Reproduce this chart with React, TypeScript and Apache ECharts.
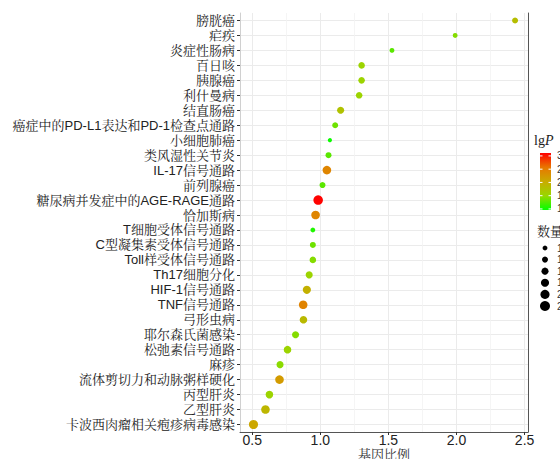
import React, { useEffect, useRef } from 'react';
import * as echarts from 'echarts';

const categories = [
  '膀胱癌', '疟疾', '炎症性肠病', '百日咳', '胰腺癌', '利什曼病', '结直肠癌',
  '癌症中的PD-L1表达和PD-1检查点通路', '小细胞肺癌', '类风湿性关节炎', 'IL-17信号通路',
  '前列腺癌', '糖尿病并发症中的AGE-RAGE通路', '恰加斯病', 'T细胞受体信号通路',
  'C型凝集素受体信号通路', 'Toll样受体信号通路', 'Th17细胞分化', 'HIF-1信号通路',
  'TNF信号通路', '弓形虫病', '耶尔森氏菌感染', '松弛素信号通路', '麻疹',
  '流体剪切力和动脉粥样硬化', '丙型肝炎', '乙型肝炎', '卡波西肉瘤相关疱疹病毒感染',
];
const geneRatio = [
  2.43, 1.99, 1.526, 1.303, 1.303, 1.285, 1.149, 1.109, 1.07, 1.06, 1.048, 1.016,
  0.984, 0.965, 0.945, 0.945, 0.945, 0.918, 0.901, 0.874, 0.876, 0.818, 0.759,
  0.704, 0.7, 0.626, 0.597, 0.509,
];
const lgP = [
  1.82, 1.43, 1.28, 1.54, 1.54, 1.54, 1.76, 1.35, 1.0, 1.28, 2.42, 1.28, 3.1, 2.42,
  1.07, 1.35, 1.43, 1.54, 1.97, 2.44, 1.86, 1.43, 1.54, 1.45, 2.2, 1.54, 1.9, 2.08,
];
const counts = [
  14, 12, 12, 15, 15, 15, 16, 14, 11, 14, 19, 14, 21, 19, 12, 14, 15, 16, 18, 19,
  17, 16, 17, 16, 19, 17, 19, 20,
];
const xTicks = [0.5, 1.0, 1.5, 2.0, 2.5];
const xMinorTicks = [0.75, 1.25, 1.75, 2.25];
const colorTicks = [3.0, 2.5, 2.0, 1.5, 1.0];
const sizeBreaks = [12, 14, 16, 18, 20, 22];
const colorStops = ['#00FF00', '#98D700', '#C9AB00', '#E87600', '#FF0000'];
const lgMin = 0.96;
const lgMax = 3.11;

const sizeOf = (c: number) => Math.max(2.5, -9.79 + 4.22 * Math.sqrt(c));

const LATIN = "'Liberation Sans', 'Noto Serif CJK SC', 'Noto Sans CJK SC', sans-serif";
const SERIF_CJK = "'Noto Serif CJK SC', 'Noto Sans CJK SC', serif";

export default function App() {
  const ref = useRef<HTMLDivElement>(null);
  useEffect(() => {
    if (!ref.current) return;
    const chart = echarts.init(ref.current, null, { renderer: 'svg' });

    const barX = 540, barY = 153, barW = 11, barH = 57;
    const valToY = (v: number) => barY + ((lgMax - v) / (lgMax - lgMin)) * barH;
    const legendGraphics: any[] = [
      {
        type: 'text', left: 534, top: 133,
        style: {
          text: '{a|lg}{b|P}',
          rich: {
            a: { fontFamily: "'Liberation Serif', serif", fontSize: 14, fill: '#222' },
            b: { fontFamily: "'Liberation Serif', serif", fontSize: 14, fontStyle: 'italic', fill: '#222' },
          },
        },
      },
      {
        type: 'rect', shape: { x: barX, y: barY, width: barW, height: barH },
        style: {
          fill: new echarts.graphic.LinearGradient(0, 0, 0, 1,
            colorStops.slice().reverse().map((c, i) => ({ offset: i / (colorStops.length - 1), color: c }))),
        },
      },
      ...colorTicks.flatMap((v) => {
        const y = valToY(v);
        return [
          { type: 'line', shape: { x1: barX, y1: y, x2: barX + 2.5, y2: y }, style: { stroke: '#fff', lineWidth: 1 } },
          { type: 'line', shape: { x1: barX + barW - 2.5, y1: y, x2: barX + barW, y2: y }, style: { stroke: '#fff', lineWidth: 1 } },
          {
            type: 'text', x: 557, y,
            style: { text: v.toFixed(1), fontSize: 10, fill: '#333', fontFamily: LATIN, verticalAlign: 'middle' },
          },
        ];
      }),
      {
        type: 'text', left: 537, top: 224,
        style: { text: '数量', fontSize: 13, fill: '#222', fontFamily: SERIF_CJK },
      },
      ...sizeBreaks.flatMap((c, i) => {
        const y = 248 + i * 11.6;
        return [
          { type: 'circle', shape: { cx: 545, cy: y, r: sizeOf(c) / 2 }, style: { fill: '#000' } },
          {
            type: 'text', x: 557, y,
            style: { text: String(c), fontSize: 10, fill: '#333', fontFamily: LATIN, verticalAlign: 'middle' },
          },
        ];
      }),
    ];

    chart.setOption({
      animation: false,
      backgroundColor: '#fff',
      grid: { left: 240, right: 32, top: 13, bottom: 27, containLabel: false, outerBoundsMode: 'none' },
      visualMap: {
        type: 'continuous', show: false, dimension: 2, min: lgMin, max: lgMax,
        seriesIndex: 0, inRange: { color: colorStops },
      },
      xAxis: {
        type: 'value', min: 0.41, max: 2.525,
        name: '基因比例', nameLocation: 'middle', nameGap: 15, nameMoveOverlap: false,
        nameTextStyle: { fontSize: 13, lineHeight: 12, color: '#333', fontFamily: SERIF_CJK, verticalAlign: 'top' },
        axisLine: { show: true, lineStyle: { color: '#555', width: 1 } },
        axisTick: { show: true, customValues: xTicks, length: 3, lineStyle: { color: '#333' } },
        axisLabel: {
          customValues: xTicks, fontSize: 14, lineHeight: 12, color: '#222', margin: 2, fontFamily: LATIN,
          formatter: (v: number) => v.toFixed(1),
        },
        splitLine: { show: true, lineStyle: { color: '#ebebeb', width: 1 } },
      },
      yAxis: [
        {
          type: 'category', data: categories, inverse: true,
          axisLine: { show: true, lineStyle: { color: '#d0d0d0', width: 1 } },
          axisTick: { show: true, alignWithLabel: true, length: 3, interval: 0, lineStyle: { color: '#333' } },
          axisLabel: { interval: 0, fontSize: 13, color: '#222', margin: 5, fontFamily: LATIN },
          splitLine: { show: true, alignWithLabel: true, interval: 0, lineStyle: { color: '#ebebeb', width: 1 } },
        },
        {
          type: 'category', data: categories, inverse: true, position: 'right',
          axisLine: { show: true, lineStyle: { color: '#555', width: 1 } },
          axisTick: { show: false }, axisLabel: { show: false }, splitLine: { show: false },
        },
      ],
      series: [
        {
          type: 'scatter',
          yAxisIndex: 0,
          data: categories.map((c, i) => [geneRatio[i], c, lgP[i], counts[i]]),
          symbolSize: (v: number[]) => sizeOf(v[3]),
          itemStyle: { opacity: 1 },
          markLine: {
            silent: true, symbol: 'none', label: { show: false },
            lineStyle: { color: '#f3f3f3', width: 0.8, type: 'solid' },
            data: xMinorTicks.map((v) => ({ xAxis: v })),
            z: 0,
          },
          z: 3,
        },
      ],
      graphic: legendGraphics,
    });
    return () => chart.dispose();
  }, []);
  return <div ref={ref} style={{ position: 'absolute', left: 0, top: 0, width: 560, height: 459 }} />;
}
